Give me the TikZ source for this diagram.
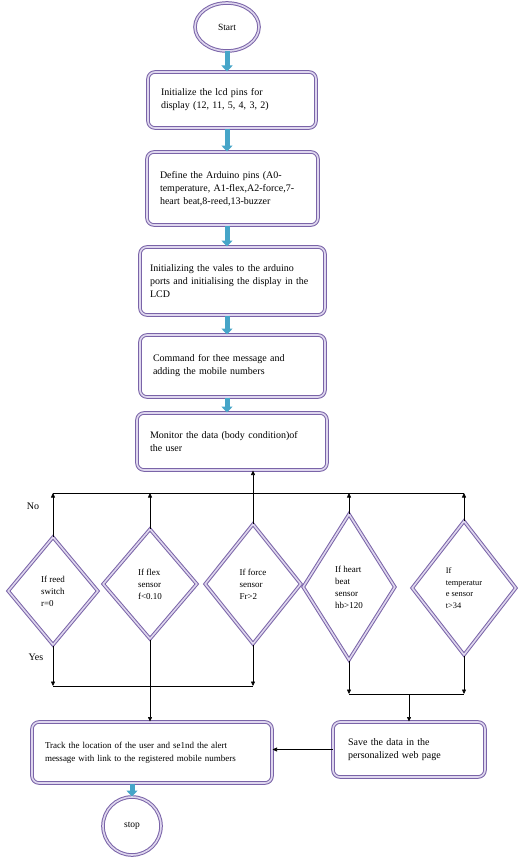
\documentclass[tikz,border=0pt]{standalone}
\usepackage{fontspec}
\setmainfont{Liberation Serif}
\usetikzlibrary{shapes,backgrounds,positioning,arrows.meta}
\usepackage{xcolor}

\definecolor{boxline}{RGB}{122,100,168}
\definecolor{boxgap}{RGB}{222,214,238}
\definecolor{arrowblue}{RGB}{70,165,200}

\tikzset{
  dbl/.style={draw=boxline, double=boxgap, double distance=1.6pt, line width=1pt},
  procbox/.style={dbl, rounded corners=7pt, align=left, inner xsep=13pt, font=\fontsize{10}{13}\selectfont},
  decision/.style={dbl, diamond, inner sep=0pt, shape aspect=0.7, align=left, font=\fontsize{9}{12}\selectfont},
  terminal/.style={dbl, ellipse, font=\fontsize{9.5}{11}\selectfont},
  flow/.style={-{Triangle[length=4.5pt,width=4pt]}, line width=0.6pt},
  bigarrow/.style={-{Triangle[length=6pt,width=11pt]}, line width=5pt, arrowblue},
}

\begin{document}
\begin{tikzpicture}[x=1pt, y=-1pt]
            \def\busTop{493}
            \def\busLeft{686}
            \def\busRight{694}

            \fill[white] (0,0) rectangle (518,859);
            \useasboundingbox (0,0) rectangle (518,859);

            % steps down the middle
            \node[terminal, minimum width=64, minimum height=48] (start) at (227,27) {Start};
            \node[procbox, minimum width=168, text width=142, minimum height=56] (lcd) at (232,100)
                {Initialize the lcd pins for\\display (12, 11, 5, 4, 3, 2)};
            \node[procbox, minimum width=171, text width=145, minimum height=73] (pins) at (232.5,188.5)
                {Define the Arduino pins (A0-\\temperature, A1-flex,A2-force,7-\\heart beat,8-reed,13-buzzer};
            \node[procbox, inner xsep=10pt, minimum width=185, text width=165, minimum height=68] (init) at (232.5,281)
                {Initializing the vales to the arduino\\ports and initialising the display in the\\LCD};
            \node[procbox, minimum width=185, text width=159, minimum height=62] (msg) at (232.5,366)
                {Command for thee message and\\adding the mobile numbers};
            \node[procbox, minimum width=190, text width=164, minimum height=57] (monitor) at (232,441.5)
                {Monitor the data (body condition)of\\the user};

            % sensor checks
            \node[decision, minimum width=90, minimum height=108] (reed) at (53,591) {If reed\\switch\\r=0};
            \node[decision, minimum width=94, minimum height=110] (flex) at (150,584) {If flex\\sensor\\f<0.10};
            \node[decision, minimum width=96, minimum height=120] (force) at (253,584) {If force\\sensor\\Fr>2};
            \node[decision, minimum width=92, minimum height=146] (heart) at (349,587) {If heart\\beat\\sensor\\hb>120};
            \node[decision, minimum width=104, minimum height=134, font=\fontsize{8.4}{11.5}\selectfont] (temp) at (464,588)
                {If\\temperatur\\e sensor\\t>34};

            \node[font=\fontsize{10}{12}\selectfont] (no) at (33,506) {No};
            \node[font=\fontsize{10}{12}\selectfont] (yes) at (36,657) {Yes};

            % actions
            \node[procbox, font=\fontsize{9}{13}\selectfont, minimum width=240, text width=214, minimum height=61] (track) at (152,752.5)
                {Track the location of the user and se1nd the alert\\message with link to the registered mobile numbers};
            \node[procbox, inner xsep=15pt, minimum width=152, text width=122, minimum height=55] (save) at (409,749.5)
                {Save the data in the\\personalized web page};
            \node[terminal, circle, minimum size=58] (stop) at (132,826) {stop};

            \coordinate (topbus) at (0,\busTop);
            \coordinate (lbus) at (0,\busLeft);
            \coordinate (rbus) at (0,\busRight);

            % thick arrows
            \draw[bigarrow] (start.south) -- (start.south |- lcd.north);
            \foreach \a/\b in {lcd/pins, pins/init, init/msg, msg/monitor}
                \draw[bigarrow] (start.south |- \a.south) -- (start.south |- \b.north);
            \draw[bigarrow] (track.south -| stop.north) -- (stop.north);

            % No branch
            \foreach \d in {reed, flex, heart, temp}
                \draw[flow] (\d.north) -- (\d.north |- topbus);
            \draw[line width=0.6pt] (reed.north |- topbus) -- (temp.north |- topbus);
            \draw[flow] (force.north) -- (force.north |- monitor.south);

            % Yes branch
            \foreach \d in {reed, force}
                \draw[flow] (\d.south) -- (\d.south |- lbus);
            \draw[line width=0.6pt] (reed.south |- lbus) -- (force.south |- lbus);
            \draw[flow] (flex.south) -- (flex.south |- track.north);
            \foreach \d in {heart, temp}
                \draw[flow] (\d.south) -- (\d.south |- rbus);
            \draw[line width=0.6pt] (heart.south |- rbus) -- (temp.south |- rbus);
            \draw[flow] (save.north |- rbus) -- (save.north);
            \draw[flow] (save.west) -- (save.west -| track.east);
        \end{tikzpicture}
\end{document}
